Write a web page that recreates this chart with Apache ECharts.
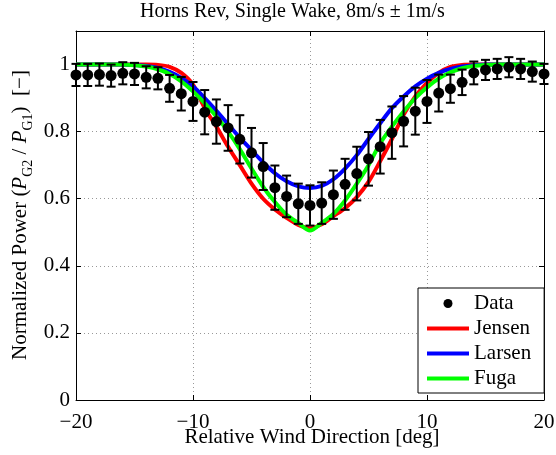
<!DOCTYPE html>
<html>
<head>
<meta charset="UTF-8">
<title>Horns Rev single wake</title>
<script type="text/javascript" src="https://cdn.jsdelivr.net/npm/echarts@6/dist/echarts.min.js"></script>
<style>body{margin:0;background:#fff;}</style>
</head>
<body>
<div id="main" style="width:556px;height:455px;"></div>

<script type="text/javascript">
// relative wind direction [deg]
var dirs = [-20,-19,-18,-17,-16,-15,-14,-13,-12,-11,-10,-9,-8,-7,-6,-5,-4,-3,-2,-1,0,
            1,2,3,4,5,6,7,8,9,10,11,12,13,14,15,16,17,18,19,20];
// measured data and error bar half height
var dataMean = [0.969,0.969,0.970,0.967,0.974,0.972,0.962,0.959,0.929,0.913,0.890,0.858,0.830,0.811,0.777,0.737,0.696,0.633,0.607,0.585,0.580,
                0.587,0.612,0.643,0.675,0.719,0.755,0.797,0.831,0.861,0.890,0.915,0.928,0.947,0.975,0.984,0.987,0.992,0.987,0.979,0.972];
var dataErr = [0.033,0.033,0.033,0.033,0.033,0.033,0.033,0.033,0.040,0.050,0.058,0.066,0.066,0.068,0.072,0.074,0.070,0.066,0.062,0.060,0.060,
               0.062,0.072,0.076,0.080,0.080,0.080,0.078,0.075,0.070,0.064,0.055,0.042,0.038,0.034,0.030,0.030,0.030,0.030,0.030,0.030];
// model curves
var jensen = [1,1,1,1,1,1,1,0.999,0.993,0.975,0.94,0.87,0.815,0.755,0.70,0.645,0.60,0.568,0.543,0.522,0.512,
              0.524,0.548,0.572,0.605,0.65,0.712,0.778,0.85,0.905,0.945,0.975,0.993,0.999,1,1,1,1,1,1,1];
var larsen = [1,1,1,1,1,0.999,0.996,0.99,0.978,0.96,0.935,0.90,0.862,0.822,0.782,0.745,0.708,0.676,0.652,0.637,0.632,
              0.638,0.658,0.69,0.73,0.778,0.825,0.87,0.905,0.935,0.958,0.975,0.987,0.994,0.998,1,1,1,1,1,1];
var fuga = [1,1,1,1,1,0.998,0.994,0.986,0.972,0.95,0.92,0.885,0.845,0.80,0.748,0.69,0.635,0.59,0.552,0.528,0.505,
            0.528,0.555,0.595,0.645,0.70,0.765,0.815,0.86,0.90,0.932,0.958,0.977,0.989,0.996,0.999,1,1,1,1,1];
var xTicks = [-20,20,10];
var yTicks = [0,1.1,0.2];

var font = 'Liberation Serif';
var lineIcon = 'path://M0,0L42,0L42,4L0,4Z';

function pairs(ys){
  var out=[];
  for(var i=0;i<dirs.length;i++){ out.push([dirs[i], ys[i]]); }
  return out;
}
var errData=[];
for(var i=0;i<dirs.length;i++){
  errData.push([dirs[i], dataMean[i]-dataErr[i], dataMean[i]+dataErr[i]]);
}

var mychart=echarts.init(document.getElementById('main'));

function xAx(pos, show){
  return {
    type:'value', position:pos, min:xTicks[0], max:xTicks[1], interval:xTicks[2],
    axisLine:{show:true, onZero:false, lineStyle:{color:'#000', width:1}},
    axisTick:{show:true, inside:true, length:5, lineStyle:{color:'#000'}},
    axisLabel:{show:show, margin:12, color:'#000', fontFamily:font, fontSize:21,
      formatter:function(v){ return String(v).replace('-', '\u2212'); }},
    splitLine:{show:show, lineStyle:{color:'#999', type:[1,3], width:1}}
  };
}
function yAx(pos, show){
  return {
    type:'value', position:pos, min:yTicks[0], max:yTicks[1], interval:yTicks[2],
    axisLine:{show:true, onZero:false, lineStyle:{color:'#000', width:1}},
    axisTick:{show:true, inside:true, length:5, lineStyle:{color:'#000'}},
    axisLabel:{show:show, margin:6, color:'#000', fontFamily:font, fontSize:21, showMaxLabel:false,
      formatter:function(v){ return String(parseFloat(v.toFixed(2))); }},
    splitLine:{show:show, lineStyle:{color:'#999', type:[1,3], width:1}}
  };
}

var option={
  animation:false,
  title:{
    text:'Horns Rev, Single Wake, 8m/s \u00b1 1m/s',
    left:140, top:2, padding:0,
    textStyle:{color:'#000', fontFamily:font, fontSize:20, fontWeight:'normal'}
  },
  grid:{left:76, right:12, top:31, bottom:55, outerBoundsMode:'none'},
  xAxis:[xAx('bottom', true), xAx('top', false)],
  yAxis:[yAx('left', true), yAx('right', false)],
  legend:{
    orient:'vertical', left:418, top:288, padding:[5,13,4,9],
    itemGap:4, itemWidth:42, itemHeight:9,
    borderColor:'#000', borderWidth:1, backgroundColor:'#fff',
    selectedMode:false,
    textStyle:{color:'#000', fontFamily:font, fontSize:21},
    data:[
      {name:'Data', icon:'circle', itemStyle:{color:'#000', opacity:1}},
      {name:'Jensen', icon:lineIcon, itemStyle:{color:'#ff0000'}},
      {name:'Larsen', icon:lineIcon, itemStyle:{color:'#0000ff'}},
      {name:'Fuga', icon:lineIcon, itemStyle:{color:'#00ff00'}}
    ]
  },
  graphic:[{
    type:'text', x:20, y:215, rotation:Math.PI/2,
    style:{
      text:'{a|Normalized Power (}{i|P}{s|G2}{a| / }{i|P}{s|G1}{a|)  [\u2212]}',
      align:'center', verticalAlign:'middle',
      rich:{
        a:{fontFamily:font, fontSize:21, lineHeight:30, fill:'#000'},
        i:{fontFamily:font, fontSize:21, lineHeight:30, fontStyle:'italic', fill:'#000'},
        s:{fontFamily:font, fontSize:14, lineHeight:14, verticalAlign:'bottom', fill:'#000'}
      }
    }
  }, {
    type:'text', x:312, y:437,
    style:{text:'Relative Wind Direction [deg]', align:'center', verticalAlign:'middle',
      fontFamily:font, fontSize:21, fill:'#000'}
  }],
  series:[
    {name:'Jensen', type:'line', data:pairs(jensen), symbol:'none', smooth:0.3, z:2,
     lineStyle:{color:'#ff0000', width:4}, itemStyle:{color:'#ff0000'}},
    {name:'Larsen', type:'line', data:pairs(larsen), symbol:'none', smooth:0.3, z:3,
     lineStyle:{color:'#0000ff', width:4}, itemStyle:{color:'#0000ff'}},
    {name:'Fuga', type:'line', data:pairs(fuga), symbol:'none', smooth:0.3, z:4,
     lineStyle:{color:'#00ff00', width:4}, itemStyle:{color:'#00ff00'}},
    {name:'errbar', type:'custom', data:errData, z:5,
     encode:{x:0, y:[1,2]},
     renderItem:function(params, api){
       var x=api.value(0);
       var lo=api.coord([x, api.value(1)]);
       var hi=api.coord([x, api.value(2)]);
       var w=4.5;
       var st={stroke:'#000', lineWidth:2};
       return {type:'group', children:[
         {type:'line', shape:{x1:lo[0], y1:lo[1], x2:hi[0], y2:hi[1]}, style:st},
         {type:'line', shape:{x1:lo[0]-w, y1:lo[1], x2:lo[0]+w, y2:lo[1]}, style:st},
         {type:'line', shape:{x1:hi[0]-w, y1:hi[1], x2:hi[0]+w, y2:hi[1]}, style:st}
       ]};
     }},
    {name:'Data', type:'scatter', data:pairs(dataMean), symbol:'circle', symbolSize:11, z:6,
     itemStyle:{color:'#000', opacity:1}}
  ]
};

mychart.setOption(option);
</script>
</body>
</html>
